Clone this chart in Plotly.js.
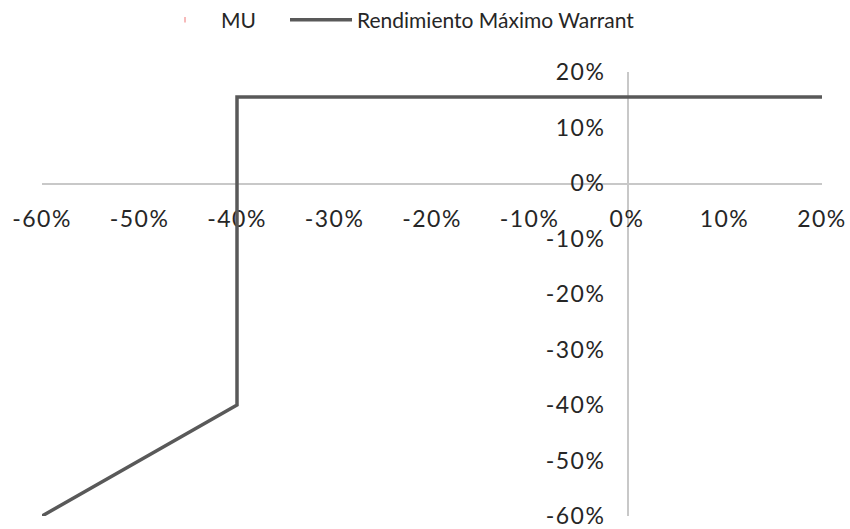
<!DOCTYPE html>
<html>
<head>
<meta charset="utf-8">
<script src="https://cdn.plot.ly/plotly-3.0.1.min.js"></script>
<style>
html,body{margin:0;padding:0;background:#fff;}
#chart{width:850px;height:529px;}
#chart .xtick text, #chart .ytick text{letter-spacing:1.5px;}
</style>
</head>
<body>
<div id="chart"></div>
<script>
// Data
const seriesNames = ["MU", "Rendimiento Máximo Warrant"];
const muX = [null];
const muY = [null];
const variacionSubyacente = [-0.60, -0.40, -0.40, 0.20];
const rendimientoWarrant = [-0.60, -0.40, 0.155, 0.155];
const tickValues = [-0.6, -0.5, -0.4, -0.3, -0.2, -0.1, 0, 0.1, 0.2];
const tickLabels = ["-60%", "-50%", "-40%", "-30%", "-20%", "-10%", "0%", "10%", "20%"];

const fontFamily = "Lato, 'Open Sans', sans-serif";
const txtColor = "#262626";

const traces = [
  {
    type: "scatter", mode: "markers", name: seriesNames[0], legend: "legend",
    x: muX, y: muY,
    marker: {color: "#f4a3a3", size: 4, symbol: "line-ns-open", line: {color: "#f4a3a3", width: 1.5}}
  },
  {
    type: "scatter", mode: "lines", name: seriesNames[1], legend: "legend2",
    x: variacionSubyacente, y: rendimientoWarrant,
    line: {color: "#595959", width: 3.5}
  }
];

const legendCommon = {
  orientation: "h", yref: "container", xref: "container", y: 0.962, yanchor: "middle", xanchor: "left",
  font: {family: fontFamily, size: 21, color: txtColor},
  itemwidth: 62, bgcolor: "rgba(0,0,0,0)", borderwidth: 0
};

const axisCommon = {
  range: [-0.6, 0.2], tickvals: tickValues, ticktext: tickLabels,
  anchor: "free", position: 0.75,
  showline: true, linecolor: "#c8c8c8", linewidth: 1.5,
  showgrid: false, zeroline: false, ticks: "",
  layer: "below traces", ticklabeloverflow: "allow",
  tickfont: {family: fontFamily, size: 23, color: txtColor},
  fixedrange: true
};

const layout = {
  width: 850, height: 529,
  margin: {l: 42, r: 28, t: 72, b: 13},
  paper_bgcolor: "#ffffff", plot_bgcolor: "#ffffff",
  font: {family: fontFamily, size: 20, color: txtColor},
  showlegend: true,
  legend: Object.assign({}, legendCommon, {x: 0.1753}),
  legend2: Object.assign({}, legendCommon, {x: 0.3353}),
  xaxis: Object.assign({}, axisCommon, {ticklabelstandoff: 15}),
  yaxis: Object.assign({}, axisCommon, {ticklabelstandoff: 17})
};

Plotly.newPlot("chart", traces, layout, {displayModeBar: false, staticPlot: true});
</script>
</body>
</html>
